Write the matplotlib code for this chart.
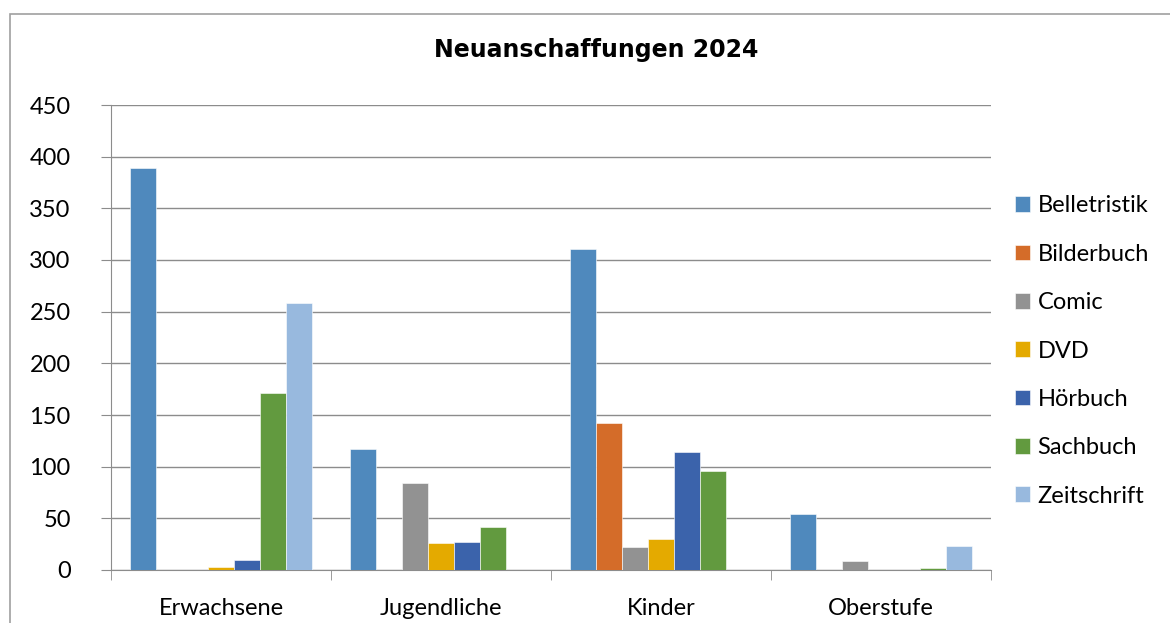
import matplotlib
matplotlib.use("Agg")
import matplotlib.pyplot as plt
import numpy as np
from matplotlib.patches import Rectangle

# data
categories = ["Erwachsene", "Jugendliche", "Kinder", "Oberstufe"]
series = ["Belletristik", "Bilderbuch", "Comic", "DVD", "Hörbuch", "Sachbuch", "Zeitschrift"]
belletristik = [389, 117, 311, 54]
bilderbuch = [0, 0, 142, 0]
comic = [0, 84, 22, 9]
dvd = [3, 26, 30, 0]
hoerbuch = [10, 27, 114, 0]
sachbuch = [171, 42, 96, 2]
zeitschrift = [258, 0, 0, 23]
colors = ["#4f89bd", "#d46c29", "#929292", "#e4aa00", "#3b63ab", "#629a3f", "#98b9de"]

values = [belletristik, bilderbuch, comic, dvd, hoerbuch, sachbuch, zeitschrift]

plt.rcParams['font.family'] = ['Lato', 'DejaVu Sans']

W, H = 1170, 623
fig = plt.figure(figsize=(W / 100, H / 100), dpi=100)
ax = fig.add_axes([111 / W, (H - 570) / H, 880 / W, 465 / H])

# outer chart border
fig.patches.append(Rectangle((10 / W, -0.1), 1.2, (H - 14) / H + 0.1, transform=fig.transFigure,
                             fill=False, edgecolor="#a0a0a0", linewidth=1.2))

x = np.arange(len(categories))
w = 26 / 220
for i, (name, vals) in enumerate(zip(series, values)):
    ax.bar(x + (i - 3) * w, vals, width=w, color=colors[i], label=name,
           edgecolor="white", linewidth=0.4, zorder=3)

ax.set_xlim(-0.5, len(categories) - 0.5)
ax.set_ylim(0, 450)
ax.set_yticks(np.arange(0, 451, 50))
ax.yaxis.grid(True, color="#8c8c8c", linewidth=1.0, zorder=0)
ax.set_axisbelow(True)

for s in ["top", "right"]:
    ax.spines[s].set_visible(False)
ax.spines["left"].set_color("#8c8c8c")
ax.spines["bottom"].set_color("#8c8c8c")

ax.set_xticks(x)
ax.set_xticklabels(categories)
ax.set_xticks(np.arange(-0.5, len(categories)), minor=True)
ax.tick_params(axis="x", which="major", length=0, pad=20, labelsize=17)
ax.tick_params(axis="x", which="minor", length=7, color="#8c8c8c")
ax.tick_params(axis="y", length=7, color="#8c8c8c", labelsize=17, pad=22)

fig.text(596 / W, (H - 50) / H, "Neuanschaffungen 2024", ha="center", va="center",
         fontsize=17, fontweight="bold", family="DejaVu Sans")

fig.legend(loc="center left", bbox_to_anchor=(1015 / W, (H - 351) / H), frameon=False,
           fontsize=17, handlelength=0.65, handleheight=0.65, handletextpad=0.3,
           labelspacing=1.16, borderpad=0, borderaxespad=0)

fig.savefig("out.png", dpi=100)
